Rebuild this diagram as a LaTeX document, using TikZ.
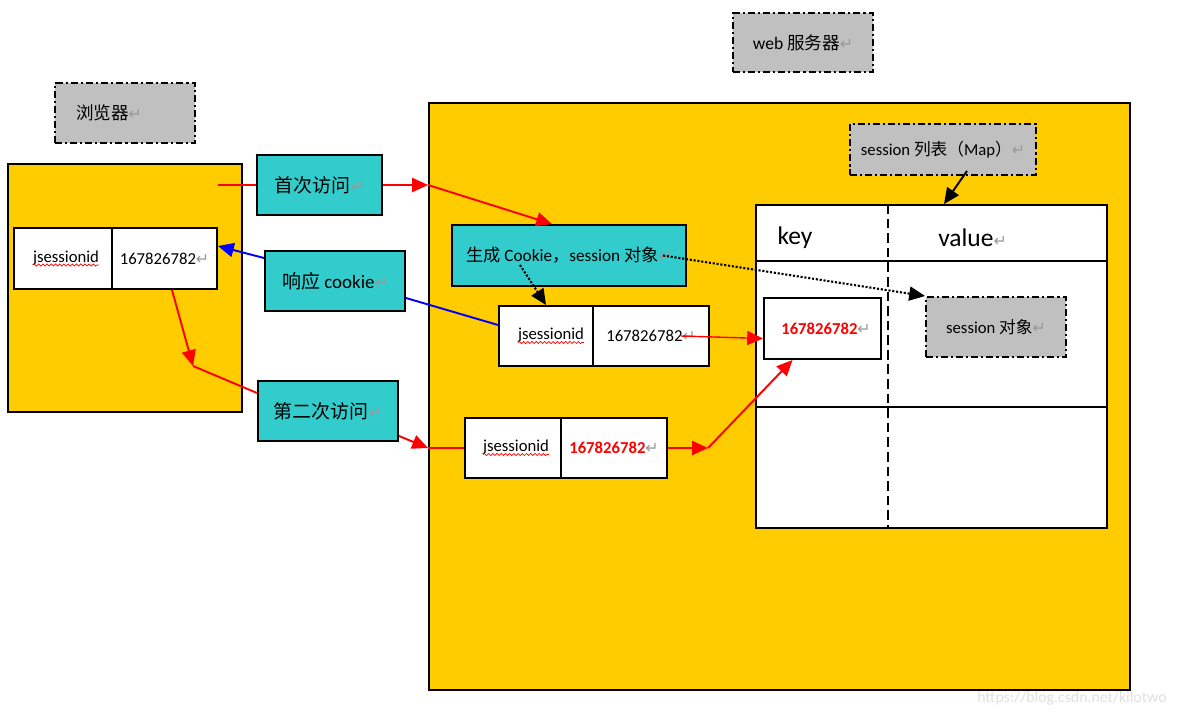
\documentclass[tikz,border=0pt]{standalone}
\usepackage{fontspec}
\setmainfont{Carlito}
\newfontfamily\cjk{Noto Sans CJK SC}
\newfontfamily\symfont{DejaVu Sans}
\usepackage{tikz}
\usetikzlibrary{arrows.meta}
\usetikzlibrary{decorations.pathmorphing}
\definecolor{bgyellow}{HTML}{FFCC00}
\definecolor{bgteal}{HTML}{33CCCC}
\definecolor{bggray}{HTML}{C0C0C0}
\newcommand{\ret}{{\symfont\color{black!40}\small ↵}}
\newcommand{\spellwave}[1]{\tikz[baseline=(w.base)]{\node[inner sep=0pt,outer sep=0pt,minimum size=0pt,draw=none,fill=none] (w) {#1};
  \draw[red,line width=0.4pt,solid,decorate,decoration={snake,amplitude=0.6pt,segment length=2.4pt}] ([yshift=-1.6pt]w.base west) -- ([yshift=-1.6pt]w.base east);}}
\tikzset{
    box/.style = {rectangle, draw=black, line width=1.1pt, inner sep=2pt},
    yellowbox/.style = {box, fill=bgyellow},
    tealbox/.style = {box, fill=bgteal},
    graybox/.style = {box, fill=bggray, dash pattern=on 4pt off 1.7pt on 1.2pt off 1.7pt},
    cell/.style = {box, fill=white},
    tip/.style = {-{Triangle[length=9pt,width=8pt]}},
    liner/.style = {line width=1.1pt, red},
    edger/.style = {tip, liner},
    edgerthin/.style = {tip, line width=0.8pt, red},
    lineb/.style = {line width=1.1pt, blue},
    edgeb/.style = {tip, lineb},
    edgen/.style = {tip, line width=1.1pt, black},
    edgedot/.style = {tip, line width=1.2pt, black, densely dotted}, % generated
    griddash/.style = {line width=1.1pt, dash pattern=on 5.5pt off 2.8pt},
    bigtext/.style = {font=\fontsize{10.8}{13}\selectfont}
}
\begin{document}
\begin{tikzpicture}[font=\fontsize{9.5}{11}\selectfont]
  \useasboundingbox (0,0) rectangle (23.58,-14.34);

  % browser side
  \node[graybox, minimum width=2.80cm, minimum height=1.20cm, inner xsep=0.42cm, text width=1.96cm, align=left, font=\fontsize{10}{12}\selectfont] at (2.50,-2.26) (browserlbl) {{\cjk 浏览器}\ret};
  \node[yellowbox, minimum width=4.68cm, minimum height=4.96cm] at (2.50,-5.76) (browser) {};
  \node[cell, minimum width=1.96cm, minimum height=1.22cm] at (1.26,-5.17) (bkey) {\hspace{0.12cm}\spellwave{jsessionid}};
  \node[cell, minimum width=2.10cm, minimum height=1.22cm] at (3.29,-5.17) (bval) {167826782\ret};

  % server side
  \node[graybox, minimum width=2.80cm, minimum height=1.18cm, font=\fontsize{10}{12}\selectfont] at (16.06,-0.85) (serverlbl) {web {\cjk 服务器}\ret};
  \node[yellowbox, minimum width=14.02cm, minimum height=11.74cm] at (15.59,-7.93) (server) {};

  % requests
  \node[tealbox, bigtext, minimum width=2.50cm, minimum height=1.20cm] at (6.39,-3.70) (first) {{\cjk 首次访问}\ret};
  \node[tealbox, bigtext, minimum width=2.80cm, minimum height=1.20cm] at (6.70,-5.62) (resp) {{\cjk 响应} cookie\ret};
  \node[tealbox, bigtext, minimum width=2.80cm, minimum height=1.20cm] at (6.56,-8.22) (second) {{\cjk 第二次访问}\ret};

  \node[tealbox, font=\fontsize{9.8}{12}\selectfont, minimum width=4.68cm, minimum height=1.22cm] at (11.38,-5.11) (gen) {{\cjk 生成} Cookie{\cjk ，}session {\cjk 对象}\ret};
  \node[cell, minimum width=1.88cm, minimum height=1.20cm] at (10.92,-6.72) (s1key) {\hspace{0.2cm}\spellwave{jsessionid}};
  \node[cell, minimum width=2.32cm, minimum height=1.20cm] at (13.02,-6.72) (s1val) {167826782\ret};
  \node[cell, minimum width=1.92cm, minimum height=1.20cm] at (10.26,-8.96) (s2key) {\hspace{0.12cm}\spellwave{jsessionid}};
  \node[cell, minimum width=2.12cm, minimum height=1.20cm] at (12.28,-8.96) (s2val) {\textcolor{red}{\textbf{167826782}}\ret};

  % session map
  \node[graybox, minimum width=3.72cm, minimum height=1.02cm] at (18.86,-2.99) (maplbl) {session {\cjk 列表（}Map{\cjk ）}\ret};
  \node[cell, minimum width=7.02cm, minimum height=6.46cm] at (18.63,-7.33) (maptab) {};
  \coordinate (r1) at (17.76,-5.22);
  \coordinate (r2) at (17.76,-8.14);
  \draw[line width=1.1pt] (r1 -| maptab.west) -- (r1 -| maptab.east);
  \draw[line width=1.1pt] (r2 -| maptab.west) -- (r2 -| maptab.east);
  \draw[griddash] (r1 |- maptab.north) -- (r1 |- maptab.south);
  \node[font=\fontsize{14.5}{16}\selectfont] at (15.90,-4.76) (mapkey) {key};
  \node[font=\fontsize{14.5}{16}\selectfont] at (19.45,-4.76) (mapval) {value\ret};
  \node[cell, minimum width=2.34cm, minimum height=1.22cm] at (16.45,-6.57) (keybox) {\hspace{0.14cm}\textcolor{red}{\textbf{167826782}}\ret};
  \node[graybox, minimum width=2.80cm, minimum height=1.20cm] at (19.92,-6.54) (sobj) {session {\cjk 对象}\ret};

  \node[text=black!12, font=\fontsize{9}{11}\selectfont] at (21.44,-13.96) (mark) {https://blog.csdn.net/kilotwo};

  % connectors
  \coordinate (c1) at (4.36,-3.70);
  \coordinate (c2) at (3.86,-7.32);
  \coordinate (c3) at (14.16,-8.96);

  \draw[liner] (c1) -- (first.west);
  \draw[edger] (first.east) -- (first.east -| server.west);
  \draw[edger] (first.east -| server.west) -- ([xshift=-0.34cm]gen.north);

  \draw[edgeb] ([yshift=0.46cm]resp.west) -- ([yshift=0.25cm]bval.east);
  \draw[lineb] ([yshift=-0.34cm]resp.east) -- ([yshift=0.22cm]s1key.west);

  \draw[edger] ([xshift=0.15cm]bval.south) -- (c2);
  \draw[liner] (c2) -- ([yshift=0.36cm]second.west);
  \draw[edger] ([yshift=-0.50cm]second.east) -- (s2key.west -| server.west);
  \draw[liner] (s2key.west -| server.west) -- (s2key.west);
  \draw[edger] (s2val.east) -- (c3);
  \draw[edger] (c3) -- ([xshift=-0.60cm]keybox.south);

  \draw[edgerthin] ([xshift=0.60cm]s1val.center) -- ([yshift=-0.20cm]keybox.west);

  \draw[edgedot] ([xshift=-0.98cm,yshift=-0.19cm]gen.center) -- (s1key.north);
  \draw[edgedot] ([xshift=1.88cm]gen.center) -- (sobj.north west);

  \draw[edgen] ([xshift=0.48cm,yshift=0.10cm]maplbl.south) -- ([xshift=0.25cm]maptab.north);
\end{tikzpicture}
\end{document}
